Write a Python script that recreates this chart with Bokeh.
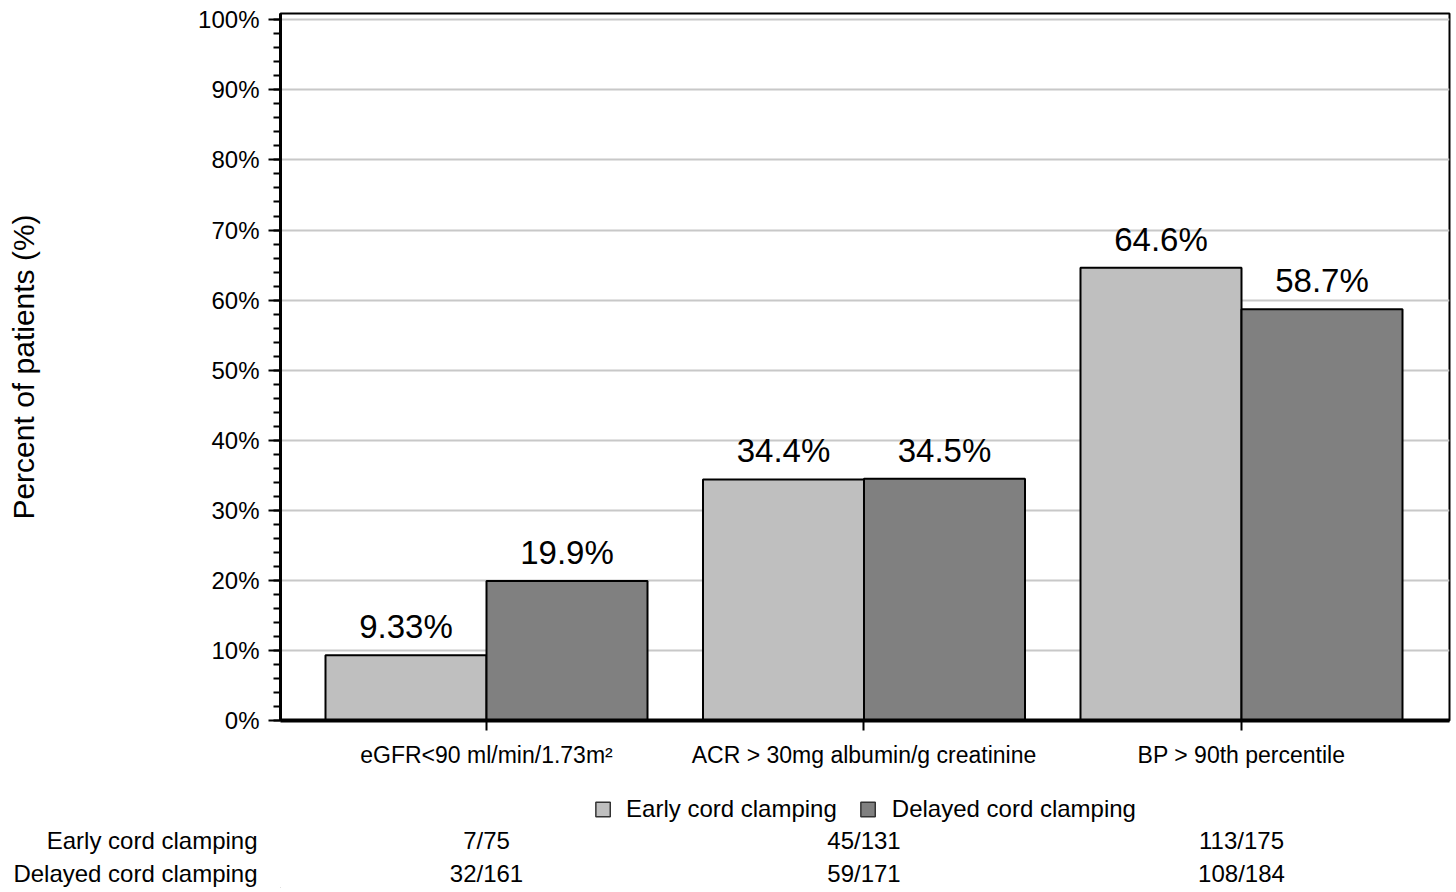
from bokeh.plotting import figure
from bokeh.models import (Range1d, FixedTicker, SingleIntervalTicker, PrintfTickFormatter,
                          ColumnDataSource, Legend, LegendItem)
from bokeh.transform import dodge
from bokeh.layouts import column
from bokeh.core.properties import value
from bokeh.embed import file_html
from bokeh.resources import INLINE

# ---- data ----
categories = ["eGFR<90 ml/min/1.73m\u00b2", "ACR > 30mg albumin/g creatinine", "BP > 90th percentile"]
early_pct = [9.33, 34.4, 64.6]
delayed_pct = [19.9, 34.5, 58.7]
early_n = ["7/75", "45/131", "113/175"]
delayed_n = ["32/161", "59/171", "108/184"]
series_names = ["Early cord clamping", "Delayed cord clamping"]

FONT = "Liberation Sans"
EARLY_C = "#bfbfbf"
DELAYED_C = "#808080"

xs = list(range(len(categories)))
src = ColumnDataSource(dict(
    x=xs,
    early=early_pct,
    delayed=delayed_pct,
    early_lbl=[f"{v:.3g}%" for v in early_pct],
    delayed_lbl=[f"{v:.3g}%" for v in delayed_pct],
))

X0, X1 = -0.5457, 2.551
Y1 = 100.9
FW, FH = 1169, 707
ML, MR, MT, MB = 280, 4, 13, 60
BAR_W = 0.4265
OFF = BAR_W / 2

xr = Range1d(X0, X1)
p = figure(frame_width=FW, frame_height=FH, x_range=xr, y_range=Range1d(0, Y1),
           output_backend="svg", toolbar_location=None,
           min_border_left=ML, min_border_right=MR, min_border_top=MT, min_border_bottom=MB)

r1 = p.vbar(x=dodge("x", -OFF), top="early", width=BAR_W, source=src,
            fill_color=EARLY_C, line_color="black", line_width=2)
r2 = p.vbar(x=dodge("x", OFF), top="delayed", width=BAR_W, source=src,
            fill_color=DELAYED_C, line_color="black", line_width=2)

for col, lbl, off in (("early", "early_lbl", -OFF), ("delayed", "delayed_lbl", OFF)):
    p.text(x=dodge("x", off), y=col, text=lbl, source=src, text_align="center",
           text_baseline="bottom", y_offset=-10, text_font=value(FONT),
           text_font_size="33px", text_color="black")

# axes
p.xaxis.ticker = FixedTicker(ticks=xs)
p.xaxis.major_label_overrides = {i: c for i, c in enumerate(categories)}
p.xaxis.major_label_text_font = FONT
p.xaxis.major_label_text_font_size = "23px"
p.xaxis.major_label_text_color = "black"
p.xaxis.major_tick_out = 10
p.xaxis.major_tick_in = 0
p.xaxis.major_tick_line_width = 2
p.xaxis.major_tick_line_color = "black"
p.xaxis.minor_tick_line_color = None
p.xaxis.axis_line_width = 4
p.xaxis.axis_line_color = "black"
p.xaxis.major_label_standoff = 11

p.yaxis.ticker = SingleIntervalTicker(interval=10, num_minor_ticks=5)
p.yaxis.formatter = PrintfTickFormatter(format="%d%%")
p.yaxis.major_label_text_font = FONT
p.yaxis.major_label_text_font_size = "24px"
p.yaxis.major_label_text_color = "black"
p.yaxis.major_tick_out = 12
p.yaxis.major_tick_in = 0
p.yaxis.minor_tick_out = 7
p.yaxis.minor_tick_in = 0
p.yaxis.major_tick_line_width = 2
p.yaxis.minor_tick_line_width = 2
p.yaxis.major_tick_line_color = "black"
p.yaxis.minor_tick_line_color = "black"
p.yaxis.axis_line_width = 3
p.yaxis.axis_line_color = "black"
p.yaxis.major_label_standoff = 9
p.yaxis.axis_label = "Percent of patients (%)"
p.yaxis.axis_label_text_font = FONT
p.yaxis.axis_label_text_font_size = "30px"
p.yaxis.axis_label_text_font_style = "normal"
p.yaxis.axis_label_text_color = "black"
p.yaxis.axis_label_standoff = 155

p.xgrid.grid_line_color = None
p.ygrid.ticker = SingleIntervalTicker(interval=10)
p.ygrid.grid_line_color = "#c8c8c8"
p.ygrid.grid_line_width = 2
p.outline_line_color = "black"
p.outline_line_width = 2

# ---- legend + count table below ----
row_ticks = [0, 1]          # Delayed row, Early row
t = figure(frame_width=FW, frame_height=108, x_range=xr, y_range=Range1d(-0.455, 2.818),
           output_backend="svg", toolbar_location=None, x_axis_type=None,
           min_border_left=ML, min_border_right=MR, min_border_top=0, min_border_bottom=0,
           outline_line_color=None)
t.xgrid.grid_line_color = None
t.ygrid.grid_line_color = None
t.yaxis.ticker = FixedTicker(ticks=row_ticks)
t.yaxis.major_label_overrides = {0: series_names[1], 1: series_names[0]}
t.yaxis.major_label_text_font = FONT
t.yaxis.major_label_text_font_size = "24px"
t.yaxis.major_label_text_color = "black"
t.yaxis.axis_line_color = None
t.yaxis.major_tick_line_color = None
t.yaxis.minor_tick_line_color = None
t.yaxis.major_label_standoff = 17

tsrc = ColumnDataSource(dict(x=xs, e=early_n, d=delayed_n,
                             ey=[row_ticks[1]] * len(xs), dy=[row_ticks[0]] * len(xs)))
t.text(x="x", y="ey", text="e", source=tsrc, text_align="center", text_baseline="middle",
       text_font=value(FONT), text_font_size="24px", text_color="black")
t.text(x="x", y="dy", text="d", source=tsrc, text_align="center", text_baseline="middle",
       text_font=value(FONT), text_font_size="24px", text_color="black")

# legend swatches: renderers kept outside the visible ranges, shown only in the legend
l1 = t.vbar(x=[-10], top=[-10], bottom=[-11], width=0.1, fill_color=EARLY_C,
            line_color="#333333", line_width=1.5)
l2 = t.vbar(x=[-10], top=[-10], bottom=[-11], width=0.1, fill_color=DELAYED_C,
            line_color="#333333", line_width=1.5)
legend = Legend(items=[LegendItem(label=series_names[0], renderers=[l1]),
                       LegendItem(label=series_names[1], renderers=[l2])],
                orientation="horizontal", location="top_center",
                glyph_width=18, glyph_height=18, label_standoff=15, spacing=22,
                label_text_font=FONT, label_text_font_size="24px", label_text_color="black",
                border_line_color=None, background_fill_alpha=0, padding=8, margin=15)
t.add_layout(legend, "center")

layout = column(p, t, spacing=0)
open("out.html", "w").write(file_html(layout, INLINE))
